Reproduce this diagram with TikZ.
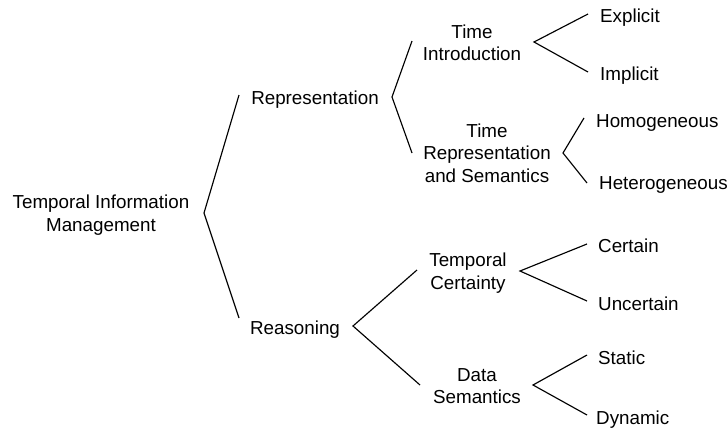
\documentclass[tikz,border=0pt]{standalone}
\usepackage{fontspec}
\setmainfont{Liberation Sans}
\begin{document}
\begin{tikzpicture}[x=1pt,y=-1pt,
  lbl/.style={font=\fontsize{18.8}{22.5}\selectfont, inner sep=0pt, align=center},
  single/.style={lbl, anchor=base},
  leaf/.style={lbl, anchor=base west},
  branch/.style={line width=1.15pt, line join=miter}]
\useasboundingbox (0,0) rectangle (728,429);

% labels
\node[lbl] (tim) at (101,215) {Temporal Information\\Management};
\node[single] (rep) at (315,104) {Representation};
\node[single] (rea) at (295,334) {Reasoning};
\node[lbl] (ti) at (472,43) {Time\\Introduction};
\node[lbl] (trs) at (487,153) {Time\\Representation\\and Semantics};
\node[lbl] (tc) at (468,273) {Temporal\\Certainty};
\node[lbl] (ds) at (477,386) {Data\\Semantics};
\node[leaf] (exp) at (600,22) {Explicit};
\node[leaf] (imp) at (600,80) {Implicit};
\node[leaf] (hom) at (596,127) {Homogeneous};
\node[leaf] (het) at (599,189) {Heterogeneous};
\node[leaf] (cer) at (598,252) {Certain};
\node[leaf] (unc) at (598,310) {Uncertain};
\node[leaf] (sta) at (598,364) {Static};
\node[leaf] (dyn) at (596,424) {Dynamic};

% bracket points
\coordinate (timV) at (204,213);
\coordinate (timA) at (239,95);
\coordinate (timB) at (239,318);
\coordinate (repV) at (392,97);
\coordinate (repA) at (412,41);
\coordinate (repB) at (412,153);
\coordinate (reaV) at (353,326);
\coordinate (reaA) at (417,270);
\coordinate (reaB) at (420,385);
\coordinate (tiV) at (534,42);
\coordinate (tiA) at (588,14);
\coordinate (tiB) at (588,72);
\coordinate (trsV) at (563,153);
\coordinate (trsA) at (584,118);
\coordinate (trsB) at (587,183);
\coordinate (tcV) at (520,271);
\coordinate (tcA) at (587,244);
\coordinate (tcB) at (587,301);
\coordinate (dsV) at (533,385);
\coordinate (dsA) at (587,355);
\coordinate (dsB) at (587,415);

% brackets
\foreach \n in {tim,rep,rea,ti,trs,tc,ds}
  \draw[branch] (\n A) -- (\n V) -- (\n B);
\end{tikzpicture}
\end{document}
